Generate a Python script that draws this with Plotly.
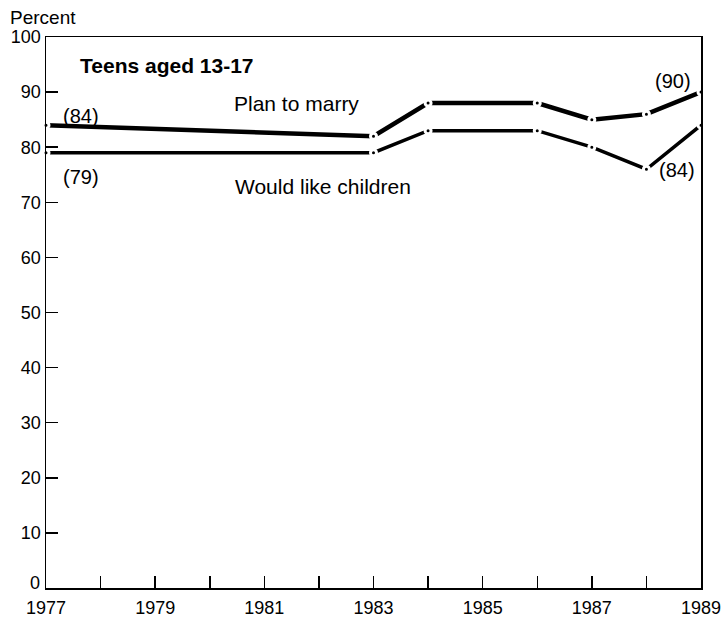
import plotly.graph_objects as go

years = [1977, 1983, 1984, 1986, 1987, 1988, 1989]
plan_to_marry = [84, 82, 88, 88, 85, 86, 90]
like_children = [79, 79, 83, 83, 80, 76, 84]

tick_years = list(range(1977, 1990))
tick_text = [str(y) if y % 2 == 1 else "" for y in tick_years]
y_ticks = list(range(0, 101, 10))
y_tick_text = ["" if v == 0 else str(v) for v in y_ticks]

FONT = "Liberation Sans, Arial, Helvetica, sans-serif"

fig = go.Figure()
fig.add_trace(go.Scatter(
    x=years, y=plan_to_marry, mode="lines+markers",
    line=dict(color="black", width=4.5),
    marker=dict(color="black", size=6, line=dict(color="white", width=3)),
    cliponaxis=False, showlegend=False, hoverinfo="skip"))
fig.add_trace(go.Scatter(
    x=years, y=like_children, mode="lines+markers",
    line=dict(color="black", width=3.5),
    marker=dict(color="black", size=6, line=dict(color="white", width=3)),
    cliponaxis=False, showlegend=False, hoverinfo="skip"))

ann = [
    dict(text="<b>Teens aged 13-17</b>", x=1977.59, y=94.9, xanchor="left", size=21),
    dict(text="Plan to marry", x=1980.41, y=88.0, xanchor="left", size=21),
    dict(text="(84)", x=1977.27, y=85.7, xanchor="left", size=20),
    dict(text="(79)", x=1977.27, y=74.6, xanchor="left", size=20),
    dict(text="Would like children", x=1980.43, y=72.8, xanchor="left", size=21),
    dict(text="(90)", x=1988.85, y=92.0, xanchor="right", size=20),
    dict(text="(84)", x=1988.93, y=75.9, xanchor="right", size=20),
]
for a in ann:
    fig.add_annotation(text=a["text"], x=a["x"], y=a["y"], xref="x", yref="y",
                       xanchor=a["xanchor"], yanchor="middle", showarrow=False,
                       font=dict(family=FONT, size=a["size"], color="black"))

# "Percent" axis title and the "0" tick label (raised above the baseline, as in the original)
fig.add_annotation(text="Percent", x=(8 - 46) / 655, y=(588 - 17) / 551,
                   xref="paper", yref="paper",
                   xanchor="left", yanchor="middle", showarrow=False,
                   font=dict(family=FONT, size=19, color="black"))
fig.add_annotation(text="0", x=0, y=0, xref="paper", yref="y",
                   xanchor="right", yanchor="middle", xshift=-4, yshift=5,
                   showarrow=False,
                   font=dict(family=FONT, size=18, color="black"))

fig.update_layout(
    width=722, height=620,
    margin=dict(l=46, r=21, t=37, b=32),
    paper_bgcolor="white", plot_bgcolor="white",
    font=dict(family=FONT, color="black"),
)
fig.update_xaxes(
    range=[1977, 1989], tickvals=tick_years, ticktext=tick_text,
    ticks="inside", ticklen=12, tickwidth=1.5, tickcolor="black",
    showline=True, linecolor="black", linewidth=1.5, mirror=True,
    showgrid=False, zeroline=False, tickfont=dict(size=18, family=FONT),
    ticklabelstandoff=3, automargin=False,
)
fig.update_yaxes(
    range=[0, 100], tickvals=y_ticks, ticktext=y_tick_text,
    ticks="inside", ticklen=12, tickwidth=1.5, tickcolor="black",
    showline=True, linecolor="black", linewidth=1.5, mirror=True,
    showgrid=False, zeroline=False, tickfont=dict(size=18, family=FONT),
    automargin=False,
)

fig.write_html("out.html",
               config={"displayModeBar": False, "staticPlot": True},
               post_script="document.body.style.margin='0px';document.body.style.overflow='hidden';")
